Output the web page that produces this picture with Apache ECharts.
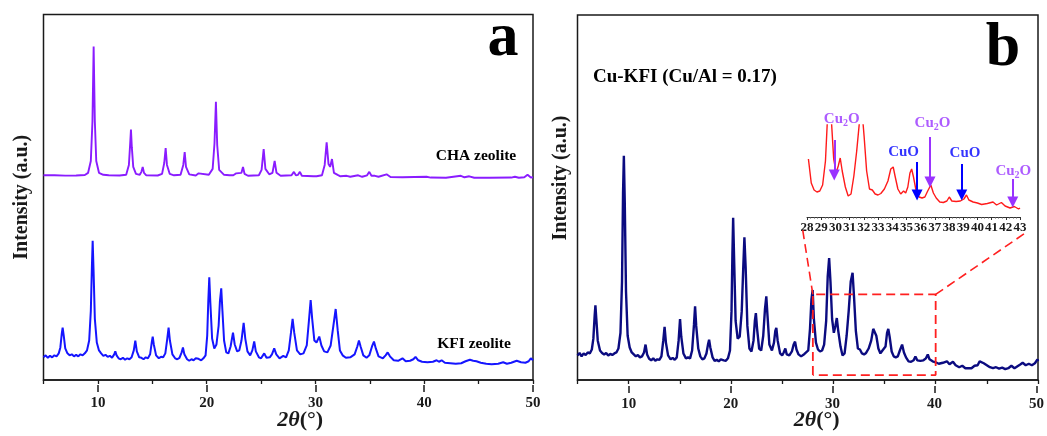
<!DOCTYPE html>
<html>
<head>
<meta charset="utf-8">
<script src="https://cdn.jsdelivr.net/npm/echarts@6.0.0/dist/echarts.min.js"></script>
<style>
html,body{margin:0;padding:0;background:#fff;}
#chart{width:1047px;height:436px;}
</style>
</head>
<body>
<div id="chart"></div>
<script>
// ---- data: [2theta, intensity (a.u.)] ----
// panel a, CHA zeolite (stacked on top)
let chaPattern=[[5,207.5],[6,207.5],[7,207.2],[8,207.3],[8.8,207.8],[9.1,210],[9.35,222],[9.5,262],[9.61,338],[9.72,262],[9.85,222],[10.1,210],[10.5,208],[11,207.5],[12,207.3],[12.6,208],[12.85,218],[12.97,240],[13.04,254],[13.12,236],[13.25,216],[13.5,209],[13.85,208],[14.0,211],[14.12,216],[14.24,210],[14.45,207.5],[15.5,207.3],[15.9,209],[16.1,220],[16.23,235],[16.35,218],[16.6,209],[17.0,207.5],[17.6,208],[17.85,218],[17.98,231],[18.1,216],[18.4,208.5],[19.0,207.3],[19.15,208.5],[19.26,209.5],[19.4,207.5],[20.2,208],[20.55,214],[20.72,240],[20.85,282],[20.97,238],[21.15,213],[21.6,208],[22.1,207.5],[22.26,209.5],[22.45,207.5],[22.6,207.8],[22.72,209.5],[22.9,207.5],[23.2,210],[23.34,216],[23.48,209],[23.8,207],[24.8,207.5],[25.05,213],[25.24,234],[25.4,214],[25.75,208.5],[26.05,210],[26.25,222],[26.42,210],[26.8,207],[27.8,207.5],[28.02,211],[28.2,207.5],[28.4,208],[28.57,211],[28.75,207],[29.8,206.5],[29.95,207.5],[30.1,206.5],[30.6,207.5],[30.85,218],[31.03,241],[31.2,219],[31.35,216],[31.52,224],[31.7,210],[32.04,208],[32.3,206.5],[32.87,207],[33.2,206],[33.93,207.5],[34.3,206],[34.75,207.5],[34.95,211],[35.15,207],[35.47,207],[35.8,206],[36.54,208.5],[36.9,205.8],[38,205.5],[40.22,206],[40.6,205.2],[42,205],[43.37,207],[43.7,205.5],[44.14,206.5],[44.6,205],[46,205],[48.0,205.2],[48.34,206],[48.7,205],[49.2,205.5],[49.5,208],[49.8,205.3],[50,205.5]];
// panel a, KFI zeolite
let kfiPattern=[[5,23],[5.2,25],[5.4,22.5],[5.6,24.5],[5.8,23],[6.0,25],[6.2,24],[6.4,27],[6.55,33],[6.68,47],[6.76,53],[6.86,45],[7.0,32],[7.2,27],[7.4,25],[7.6,26],[7.8,24],[8.0,25.5],[8.2,24],[8.4,26],[8.6,25],[8.8,27],[9.0,30],[9.2,40],[9.35,70],[9.45,115],[9.52,141],[9.6,112],[9.72,62],[9.9,38],[10.1,30],[10.3,27],[10.5,24.5],[10.7,25.5],[10.9,23.5],[11.1,24.5],[11.3,22.5],[11.5,26],[11.6,29],[11.72,25],[11.9,22],[12.1,21],[12.3,22.5],[12.5,20.5],[12.7,22],[12.9,21],[13.1,23],[13.3,30],[13.44,40],[13.58,29],[13.8,23],[14.0,22.5],[14.2,21],[14.4,23],[14.6,22],[14.8,26],[14.95,38],[15.04,44],[15.14,36],[15.35,25],[15.6,22],[15.8,23.5],[16.0,23],[16.2,27],[16.38,42],[16.5,53],[16.62,40],[16.85,26],[17.1,22],[17.3,21],[17.5,22.5],[17.7,28],[17.82,33],[17.95,26],[18.2,21],[18.4,19.5],[18.6,21],[18.8,20],[19.0,22],[19.1,24],[19.25,21.5],[19.5,20],[19.7,22],[19.9,25],[20.05,45],[20.15,80],[20.24,104],[20.34,78],[20.5,42],[20.7,32],[20.9,36],[21.1,55],[21.22,80],[21.34,93],[21.45,70],[21.6,40],[21.8,28],[22.0,27],[22.2,34],[22.42,48],[22.58,36],[22.8,29],[23.0,30],[23.2,40],[23.4,58],[23.55,42],[23.75,29],[24.0,25],[24.2,30],[24.37,39],[24.52,29],[24.8,23],[25.0,22],[25.29,27],[25.5,22.5],[25.8,23],[26.0,26],[26.21,32],[26.4,26],[26.7,22],[27.04,24.5],[27.3,23],[27.55,30],[27.75,48],[27.9,62],[28.05,48],[28.3,30],[28.6,26],[28.9,27],[29.2,35],[29.4,60],[29.56,81],[29.7,62],[29.9,40],[30.1,38],[30.35,44],[30.55,35],[30.8,29],[31.1,28],[31.4,35],[31.65,55],[31.86,72],[32.05,50],[32.25,30],[32.5,25],[32.8,22.5],[33.2,23],[33.6,26],[33.85,34],[34.0,40],[34.15,34],[34.4,25],[34.7,22.5],[34.95,25],[35.2,34],[35.38,39],[35.55,32],[35.8,24],[36.2,22],[36.45,25],[36.64,28],[36.85,24],[37.2,20],[37.6,19.5],[38.0,22],[38.3,19],[38.7,19.5],[39.0,21],[39.2,23.5],[39.45,20],[39.8,18.5],[40.3,18],[40.8,18.5],[41.14,20],[41.35,18.5],[41.6,20],[41.9,17.5],[42.4,17],[42.9,16.5],[43.4,17],[43.8,19],[44.2,20.5],[44.5,19.5],[44.8,19],[45.2,17.5],[45.7,16.5],[46.2,16],[46.8,16.5],[47.26,18],[47.6,16.5],[48.0,17.5],[48.5,19.5],[48.9,18],[49.3,17.5],[49.6,19],[49.8,22],[50,20]];
// panel b, Cu-KFI (Cu/Al = 0.17); the inset re-uses the 28-43 part
let cuKfiPattern=[[5,25],[5.2,27.5],[5.4,24],[5.6,27],[5.8,25.5],[6.0,28],[6.2,27],[6.4,31],[6.55,42],[6.68,66],[6.75,76],[6.84,62],[6.98,40],[7.2,30],[7.4,27.5],[7.6,26],[7.8,27.5],[8.0,25],[8.2,26.5],[8.4,25.5],[8.6,27],[8.8,28],[9.0,32],[9.2,48],[9.35,100],[9.45,190],[9.53,228],[9.62,180],[9.74,90],[9.9,45],[10.1,33],[10.3,28],[10.5,26],[10.7,24],[10.9,25.5],[11.1,23],[11.3,24],[11.5,28],[11.65,36],[11.8,26],[12.0,21.5],[12.2,20],[12.4,22],[12.6,19.5],[12.8,21],[13.0,20.5],[13.2,24],[13.38,40],[13.51,54],[13.64,38],[13.85,25],[14.1,21],[14.3,22.5],[14.5,20.5],[14.7,23],[14.88,40],[15.02,62],[15.14,44],[15.35,27],[15.6,22],[15.8,23],[16.0,22],[16.2,30],[16.38,56],[16.49,75],[16.6,55],[16.8,32],[17.0,24],[17.2,21],[17.4,22],[17.6,27],[17.75,36],[17.86,41],[17.98,33],[18.2,23],[18.4,19.5],[18.6,20.5],[18.8,19],[19.0,21],[19.1,23],[19.3,20],[19.5,19.5],[19.7,22],[19.9,30],[20.05,70],[20.14,130],[20.21,165],[20.3,125],[20.45,60],[20.65,42],[20.85,44],[21.05,70],[21.2,115],[21.31,145],[21.43,115],[21.6,55],[21.8,32],[22.0,29],[22.2,40],[22.33,60],[22.43,68],[22.55,52],[22.75,32],[22.95,30],[23.15,45],[23.32,72],[23.45,85],[23.57,65],[23.75,36],[24.0,30],[24.2,38],[24.33,50],[24.43,53],[24.56,40],[24.8,27],[25.0,25],[25.15,28],[25.31,32],[25.45,26],[25.7,25],[25.95,29],[26.12,36],[26.26,39],[26.4,31],[26.6,26],[26.85,24],[27.0,25],[27.18,26.5],[27.35,25],[27.55,30],[27.72,52],[27.86,82],[27.98,91.5],[28.1,62],[28.3,38],[28.5,31],[28.7,29],[28.9,30],[29.1,36],[29.3,60],[29.45,105],[29.59,124],[29.72,100],[29.88,62],[30.05,48],[30.2,55],[30.34,63],[30.48,50],[30.7,34],[30.9,25],[31.1,27],[31.3,45],[31.5,70],[31.7,100],[31.88,109],[32.02,85],[32.2,50],[32.4,32],[32.6,31],[32.8,27],[33.0,26],[33.2,27.5],[33.45,32],[33.7,40],[33.9,52],[34.07,54],[34.2,45],[34.4,32],[34.6,27],[34.8,30],[34.95,28],[35.1,34],[35.25,48],[35.37,52],[35.5,44],[35.7,29],[35.9,24],[36.1,23],[36.3,24],[36.5,30],[36.72,36],[36.9,28],[37.1,23],[37.35,19],[37.6,18.5],[37.85,20],[38.02,24],[38.2,20],[38.5,19.5],[38.8,20],[39.05,22],[39.23,26],[39.4,21],[39.7,19],[40.0,18],[40.3,16.5],[40.7,17.5],[41.1,19],[41.35,16],[41.69,18.5],[41.95,15],[42.3,13],[42.6,14.5],[42.9,12],[43.0,13],[43.5,12],[43.8,14.5],[44.1,15],[44.3,19],[44.46,20.5],[44.7,17],[45.0,15],[45.3,13],[45.6,12],[45.9,13],[46.2,11.5],[46.5,12.5],[46.8,11],[47.1,12],[47.4,14.5],[47.7,12],[48.0,14],[48.3,16],[48.5,17.5],[48.8,15],[49.1,16.5],[49.4,15],[49.7,17],[49.95,21],[50,19]];

// zoom box (panel b units) and the two dashed leader lines to the inset
let zoomBox=[[28,5],[28,87],[40,87],[40,5],[28,5]];
let zoomLinks=[[[28,87],[27.0,153]],[[40,87],[48.7,149]]];
// inset annotations: [angle, arrow start, arrow end] and label anchors
let cu2oArrows=[[29.92,81,46],[36.66,84,39],[42.49,42,19]];
let cuoArrows=[[35.75,59,26],[38.9,57,26]];
let cu2oLabelAt=[[30.45,102],[36.84,98],[42.53,50]];
let cuoLabelAt=[[34.8,69],[39.13,68]];

let serif="'Liberation Serif','Times New Roman',serif";
let ink="#1a1a1a";

/**frame axis: ticks every 5 deg, no labels*/
function frameX(gridIndex,pad){
	return {
		type:"value",gridIndex,min:5,max:50,interval:5,
		axisLine:{show:true,onZero:false,lineStyle:{color:ink,width:1.5}},
		axisTick:{show:true,length:4,lineStyle:{color:ink,width:1.3}},
		axisLabel:{show:false},splitLine:{show:false},
		name:"{i|2θ}{n|(°)}",nameLocation:"middle",nameGap:29,
		nameTextStyle:{padding:[0,0,0,pad],rich:{
			i:{fontFamily:serif,fontWeight:"bold",fontStyle:"italic",fontSize:22,color:ink},
			n:{fontFamily:serif,fontWeight:"bold",fontSize:22,color:ink}
		}}
	};
}
/**label axis: long ticks and numbers every 10 deg*/
function labelX(gridIndex){
	return {
		type:"value",gridIndex,min:10,max:50,interval:10,
		axisLine:{show:false},
		axisTick:{show:true,length:7,lineStyle:{color:ink,width:1.5}},
		axisLabel:{margin:11,fontFamily:serif,fontWeight:"bold",fontSize:15,color:ink},
		splitLine:{show:false}
	};
}
function frameY(gridIndex,max,gap,pad){
	return {
		type:"value",gridIndex,min:0,max,
		axisLine:{show:false},axisTick:{show:false},axisLabel:{show:false},splitLine:{show:false},
		name:"Intensity (a.u.)",nameLocation:"middle",nameRotate:90,nameGap:gap,
		nameTextStyle:{fontFamily:serif,fontWeight:"bold",fontSize:20,color:ink,padding:[0,0,0,pad]}
	};
}
function subLabel(color){
	return {
		show:true,position:"inside",color,
		formatter:function(p){return p.seriesName=="Cu2O"?"{m|Cu}{s|2}{m|O}":"{m|CuO}";},
		rich:{
			m:{fontFamily:serif,fontWeight:"bold",fontSize:15,color,lineHeight:18},
			s:{fontFamily:serif,fontWeight:"bold",fontSize:10,color,lineHeight:10,verticalAlign:"bottom"}
		}
	};
}
function arrowSeries(list,color){
	return {
		type:"lines",coordinateSystem:"cartesian2d",xAxisIndex:4,yAxisIndex:4,
		symbol:["none","triangle"],symbolSize:[8,11],silent:true,z:6,
		lineStyle:{color,width:2,opacity:1},
		data:list.map(function(a){return {coords:[[a[0],a[1]],[a[0],a[2]]]};})
	};
}
function text(x,y,str,size,align){
	return {type:"text",x,y,silent:true,style:{
		text:str,fontFamily:serif,fontWeight:"bold",fontSize:size,fill:"#000",
		align:align,verticalAlign:"middle",textAlign:align,textVerticalAlign:"middle"
	}};
}

let chart=echarts.init(document.getElementById("chart"));
let option={
	animation:false,
	backgroundColor:"#fff",
	grid:[
		{left:43.5,top:14.5,width:489.5,height:370.5,show:true,borderColor:ink,borderWidth:1.5},
		{left:97.9,top:14.5,width:435.1,height:370.5},
		{left:577.5,top:15,width:460.5,height:371,show:true,borderColor:ink,borderWidth:1.5},
		{left:628.7,top:15,width:409.3,height:371},
		{left:807,top:125,width:213,height:92}
	],
	xAxis:[
		frameX(0,24),labelX(1),frameX(2,18),labelX(3),
		{
			type:"value",gridIndex:4,min:28,max:43,interval:1,
			axisLine:{show:true,onZero:false,lineStyle:{color:"#333",width:1}},
			axisTick:{show:true,length:3,lineStyle:{color:"#333"}},
			minorTick:{show:true,splitNumber:4,length:1.5,lineStyle:{color:"#555"}},
			axisLabel:{interval:0,margin:4,fontFamily:serif,fontWeight:"bold",fontSize:13,color:ink},
			splitLine:{show:false}
		}
	],
	yAxis:[
		frameY(0,370.5,12,0),
		{type:"value",gridIndex:1,show:false,min:0,max:1},
		frameY(2,371,7,39),
		{type:"value",gridIndex:3,show:false,min:0,max:1},
		{type:"value",gridIndex:4,show:false,min:4,max:96}
	],
	series:[
		{name:"CHA zeolite",type:"line",xAxisIndex:0,yAxisIndex:0,data:chaPattern,showSymbol:false,silent:true,
			lineStyle:{color:"#8A1CFF",width:1.9}},
		{name:"KFI zeolite",type:"line",xAxisIndex:0,yAxisIndex:0,data:kfiPattern,showSymbol:false,silent:true,
			lineStyle:{color:"#1515FF",width:2}},
		{name:"Cu-KFI",type:"line",xAxisIndex:2,yAxisIndex:2,data:cuKfiPattern,showSymbol:false,silent:true,
			lineStyle:{color:"#0B0B80",width:2.4}},
		{name:"zoom",type:"line",xAxisIndex:2,yAxisIndex:2,data:zoomBox,showSymbol:false,silent:true,z:4,
			lineStyle:{color:"#FF2020",width:1.8,type:[9,5]}},
		{name:"links",type:"lines",coordinateSystem:"cartesian2d",xAxisIndex:2,yAxisIndex:2,silent:true,z:4,
			lineStyle:{color:"#FF2020",width:1.6,type:[9,5],opacity:1},
			data:zoomLinks.map(function(c){return {coords:c};})},
		{name:"inset",type:"line",xAxisIndex:4,yAxisIndex:4,showSymbol:false,silent:true,clip:true,
			data:cuKfiPattern.filter(function(p){return p[0]>=28.1&&p[0]<=43;}),
			lineStyle:{color:"#FF1A1A",width:1.4}},
		arrowSeries(cu2oArrows,"#9933FF"),
		arrowSeries(cuoArrows,"#0000FF"),
		{name:"Cu2O",type:"scatter",xAxisIndex:4,yAxisIndex:4,data:cu2oLabelAt,symbolSize:1,clip:false,silent:true,
			itemStyle:{color:"rgba(0,0,0,0)"},label:subLabel("#9933FF")},
		{name:"CuO",type:"scatter",xAxisIndex:4,yAxisIndex:4,data:cuoLabelAt,symbolSize:1,clip:false,silent:true,
			itemStyle:{color:"rgba(0,0,0,0)"},label:subLabel("#0000FF")}
	],
	graphic:[
		text(503,39,"a",62,"center"),
		text(1003,49,"b",62,"center"),
		text(476,156,"CHA zeolite",15.5,"center"),
		text(474,344,"KFI zeolite",15.5,"center"),
		text(593,77,"Cu-KFI (Cu/Al = 0.17)",19,"left")
	]
};
chart.setOption(option);
</script>
</body>
</html>
